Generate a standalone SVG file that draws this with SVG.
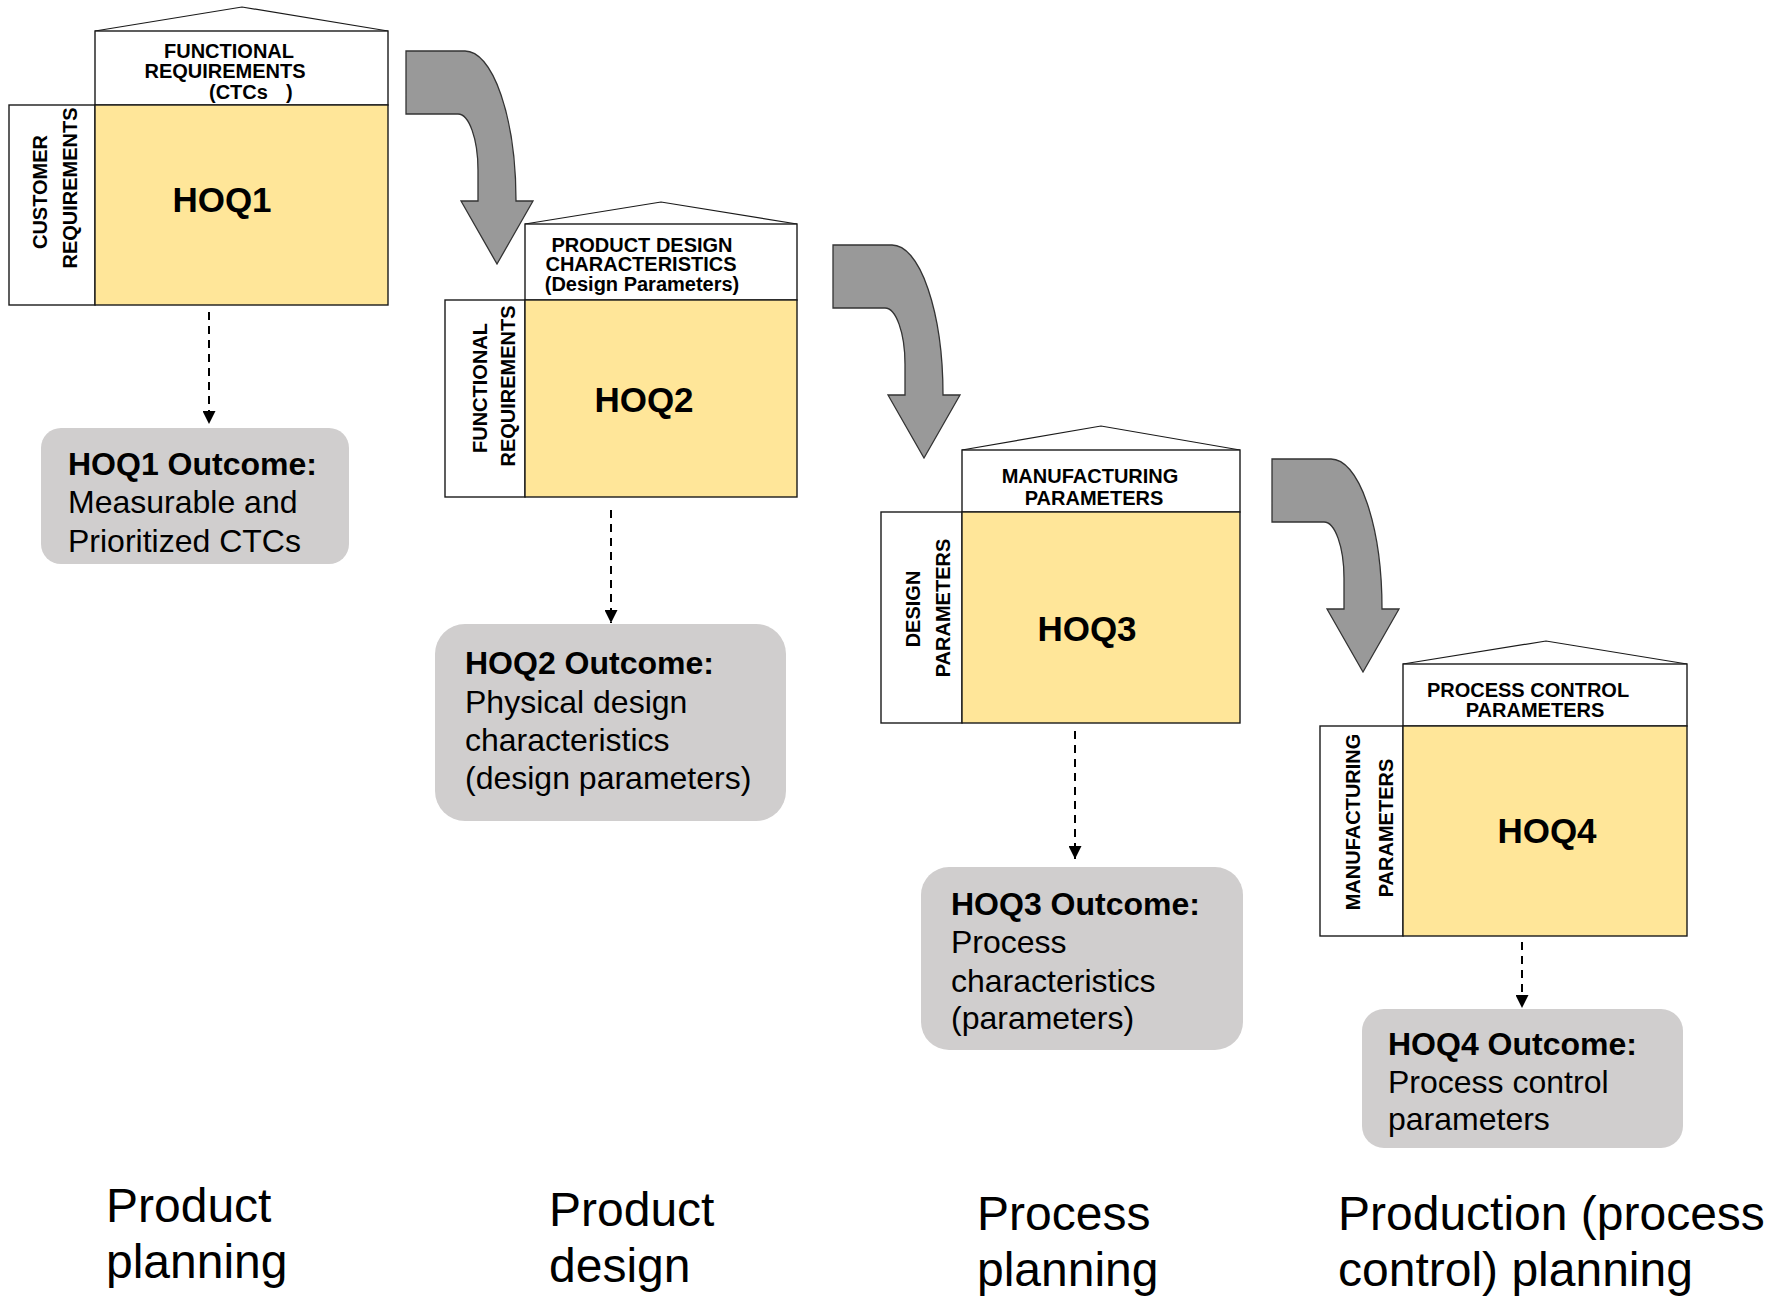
<svg xmlns="http://www.w3.org/2000/svg" xmlns:xlink="http://www.w3.org/1999/xlink" width="1783" height="1296" viewBox="0 0 1783 1296">
<style>
.bg{fill:#ffffff}
.hdr{fill:#ffffff;stroke:#1a1a1a;stroke-width:1.4}
.side{fill:#ffffff;stroke:#1a1a1a;stroke-width:1.4}
.core{fill:#FFE699;stroke:#1a1a1a;stroke-width:1.4}
.roof{fill:none;stroke:#1a1a1a;stroke-width:1.2}
.lbl{font-family:"Liberation Sans",Arial,sans-serif;font-weight:bold;font-size:20px;fill:#000;text-anchor:middle}
.big{font-family:"Liberation Sans",Arial,sans-serif;font-weight:bold;font-size:35px;fill:#000;text-anchor:middle}
.out{fill:#D0CECE}
.ot{font-family:"Liberation Sans",Arial,sans-serif;font-size:32px;fill:#000}
.ob{font-weight:bold}
.stage{font-family:"Liberation Sans",Arial,sans-serif;font-size:48px;fill:#000}
.dash{fill:none;stroke:#000;stroke-width:2;stroke-dasharray:8,6}
.flow{fill:#999999;stroke:#333333;stroke-width:1.3}
</style>
<defs>
<marker id="tip" viewBox="0 0 10 10" refX="10" refY="5" markerWidth="13" markerHeight="13" markerUnits="userSpaceOnUse" orient="auto">
<path d="M0,0 L10,5 L0,10 Z" fill="#000"/>
</marker>
<path id="bend" d="M0,0 L59,0 A51,150 0 0 1 110,150 L127,150 L91,213 L55,150 L72,150 L72,119 A20,56 0 0 0 52,63 L0,63 Z"/>
</defs>
<rect class="bg" x="0" y="0" width="1783" height="1296"/>

<g id="connectors">
<use xlink:href="#bend" href="#bend" class="flow" transform="translate(406,51)"/>
<use xlink:href="#bend" href="#bend" class="flow" transform="translate(833,245)"/>
<use xlink:href="#bend" href="#bend" class="flow" transform="translate(1272,459)"/>
<path class="dash" d="M209,312 L209,424" marker-end="url(#tip)"/>
<path class="dash" d="M611,510 L611,623" marker-end="url(#tip)"/>
<path class="dash" d="M1075,731 L1075,859" marker-end="url(#tip)"/>
<path class="dash" d="M1522,942 L1522,1008" marker-end="url(#tip)"/>
</g>

<g id="hoq1">
<polyline class="roof" points="95,31 242,7 388,31"/>
<rect class="hdr" x="95" y="31" width="293" height="74"/>
<rect class="side" x="9" y="105" width="86" height="200"/>
<rect class="core" x="95" y="105" width="293" height="200"/>
<text class="lbl" x="229" y="58">FUNCTIONAL</text>
<text class="lbl" x="225" y="78">REQUIREMENTS</text>
<text class="lbl" x="209" y="99" style="text-anchor:start">(CTCs</text>
<text class="lbl" x="286" y="99" style="text-anchor:start">)</text>
<text class="lbl" transform="translate(47,192) rotate(-90)">CUSTOMER</text>
<text class="lbl" transform="translate(77,188) rotate(-90)">REQUIREMENTS</text>
<text class="big" x="222" y="212">HOQ1</text>
</g>

<g id="hoq2">
<polyline class="roof" points="525,224 661,202 797,224"/>
<rect class="hdr" x="525" y="224" width="272" height="76"/>
<rect class="side" x="445" y="300" width="80" height="197"/>
<rect class="core" x="525" y="300" width="272" height="197"/>
<text class="lbl" x="642" y="252">PRODUCT  DESIGN</text>
<text class="lbl" x="641" y="271">CHARACTERISTICS</text>
<text class="lbl" x="642" y="291">(Design Parameters)</text>
<text class="lbl" transform="translate(487,388) rotate(-90)">FUNCTIONAL</text>
<text class="lbl" transform="translate(515,386) rotate(-90)">REQUIREMENTS</text>
<text class="big" x="644" y="412">HOQ2</text>
</g>

<g id="hoq3">
<polyline class="roof" points="962,450 1101,426 1240,450"/>
<rect class="hdr" x="962" y="450" width="278" height="62"/>
<rect class="side" x="881" y="512" width="81" height="211"/>
<rect class="core" x="962" y="512" width="278" height="211"/>
<text class="lbl" x="1090" y="483">MANUFACTURING</text>
<text class="lbl" x="1094" y="505">PARAMETERS</text>
<text class="lbl" transform="translate(920,609) rotate(-90)">DESIGN</text>
<text class="lbl" transform="translate(950,608) rotate(-90)">PARAMETERS</text>
<text class="big" x="1087" y="641">HOQ3</text>
</g>

<g id="hoq4">
<polyline class="roof" points="1403,664 1546,641 1687,664"/>
<rect class="hdr" x="1403" y="664" width="284" height="62"/>
<rect class="side" x="1320" y="726" width="83" height="210"/>
<rect class="core" x="1403" y="726" width="284" height="210"/>
<text class="lbl" x="1528" y="697">PROCESS  CONTROL</text>
<text class="lbl" x="1535" y="717">PARAMETERS</text>
<text class="lbl" transform="translate(1360,822) rotate(-90)">MANUFACTURING</text>
<text class="lbl" transform="translate(1393,828) rotate(-90)">PARAMETERS</text>
<text class="big" x="1547" y="843">HOQ4</text>
</g>

<g id="out1">
<rect class="out" x="41" y="428" width="308" height="136" rx="20"/>
<text class="ot ob" x="68" y="475">HOQ1 Outcome:</text>
<text class="ot" x="68" y="513">Measurable and</text>
<text class="ot" x="68" y="552">Prioritized CTCs</text>
</g>

<g id="out2">
<rect class="out" x="435" y="624" width="351" height="197" rx="30"/>
<text class="ot ob" x="465" y="674">HOQ2 Outcome:</text>
<text class="ot" x="465" y="713">Physical design</text>
<text class="ot" x="465" y="751">characteristics</text>
<text class="ot" x="465" y="789">(design parameters)</text>
</g>

<g id="out3">
<rect class="out" x="921" y="867" width="322" height="183" rx="28"/>
<text class="ot ob" x="951" y="915">HOQ3 Outcome:</text>
<text class="ot" x="951" y="953">Process</text>
<text class="ot" x="951" y="992">characteristics</text>
<text class="ot" x="951" y="1029">(parameters)</text>
</g>

<g id="out4">
<rect class="out" x="1362" y="1009" width="321" height="139" rx="22"/>
<text class="ot ob" x="1388" y="1055">HOQ4 Outcome:</text>
<text class="ot" x="1388" y="1093">Process control</text>
<text class="ot" x="1388" y="1130">parameters</text>
</g>

<g id="stages">
<text class="stage" x="106" y="1222">Product</text>
<text class="stage" x="106" y="1278">planning</text>
<text class="stage" x="549" y="1226">Product</text>
<text class="stage" x="549" y="1282">design</text>
<text class="stage" x="977" y="1230">Process</text>
<text class="stage" x="977" y="1286">planning</text>
<text class="stage" x="1338" y="1230">Production (process</text>
<text class="stage" x="1338" y="1286">control) planning</text>
</g>
</svg>
